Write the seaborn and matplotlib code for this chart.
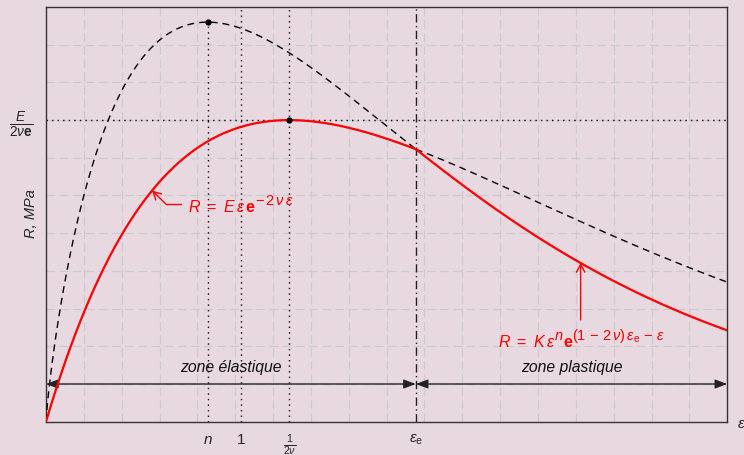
import numpy as np
import pandas as pd
import matplotlib
matplotlib.use("Agg")
import matplotlib.pyplot as plt
import matplotlib.transforms as mtransforms
import seaborn as sns

# Model parameters (strain ε, stress R in plot units)
nu = 0.4            # so that 1/(2ν) = 1.25
n_exp = 0.83        # hardening exponent n
eps_e = 1.9         # elastic / plastic transition strain
eps_max = 3.5
R_max = 11.0
R_peak = 8.0        # E / (2νe)
E = R_peak * 2 * nu * np.e

x_tick_pos = [n_exp, 1.0, 1 / (2 * nu), eps_e]
x_tick_labels = [r'$n$', r'$1$', r'$\frac{1}{2\nu}$', r'$\varepsilon_{\mathrm{e}}$']
y_tick_labels = [r'$\frac{E}{2\nu\mathbf{e}}$']
zone_labels = ['zone élastique', 'zone plastique']
# formula pieces: (text, is_superscript)
law_elastic = [(r'$R\ =\ E\,\varepsilon\,\mathbf{e}$', False),
               (r'$-\,2\,\nu\,\varepsilon$', True)]
law_plastic = [(r'$R\ =\ K\,\varepsilon$', False),
               (r'$n$', True),
               (r'$\mathbf{e}$', False),
               (r'$(1\,-\,2\,\nu)\,\varepsilon_{\mathrm{e}}\,-\,\varepsilon$', True)]

BG = '#e8d8e0'
GRID = '#c9cdcd'


def elastic(eps):
    return E * eps * np.exp(-2 * nu * eps)


K = elastic(eps_e) / (eps_e ** n_exp * np.exp(-eps_e))


def plastic(eps):
    return K * eps ** n_exp * np.exp(-eps)


eps_lo = np.linspace(0, eps_e, 300)
eps_hi = np.linspace(eps_e, eps_max, 300)
red = pd.DataFrame({'eps': np.r_[eps_lo, eps_hi],
                    'R': np.r_[elastic(eps_lo), plastic(eps_hi)]})
dash_lo = pd.DataFrame({'eps': eps_lo, 'R': plastic(eps_lo)})
dash_hi = pd.DataFrame({'eps': eps_hi, 'R': elastic(eps_hi)})

sns.set_theme(style='white', rc={'axes.facecolor': BG, 'figure.facecolor': BG})
plt.rcParams['font.family'] = ['Liberation Sans', 'DejaVu Sans']
plt.rcParams['mathtext.fontset'] = 'custom'
plt.rcParams['mathtext.rm'] = 'Liberation Sans'
plt.rcParams['mathtext.it'] = 'Liberation Sans:italic'
plt.rcParams['mathtext.bf'] = 'Liberation Sans:bold'

fig = plt.figure(figsize=(7.44, 4.55), dpi=100)
ax = fig.add_axes([46 / 744, (455 - 421.7) / 455, 681.2 / 744, 414.7 / 455])
ax.set_xlim(0, eps_max)
ax.set_ylim(0, R_max)

# dashed grid: 18 x 11 equal cells
for gx in np.linspace(0, eps_max, 19)[1:-1]:
    ax.axvline(gx, color=GRID, lw=0.9, ls=(0, (7, 3.5)), zorder=0)
for gy in np.arange(1, R_max):
    ax.axhline(gy, color=GRID, lw=0.9, ls=(0, (7, 3.5)), zorder=0)

dotted = dict(color='black', lw=1.0, ls=(0, (1, 3)), zorder=2)
ax.plot([n_exp, n_exp], [0, plastic(n_exp)], **dotted)
ax.plot([1, 1], [0, R_max], **dotted)
ax.plot([1 / (2 * nu)] * 2, [0, R_max], **dotted)
ax.plot([0, eps_max], [R_peak, R_peak], **dotted)
ax.plot([eps_e, eps_e], [0, R_max], color='#222222', lw=1.0,
        ls=(0, (6, 2.5, 1, 2.5)), zorder=2)

sns.lineplot(data=dash_lo, x='eps', y='R', ax=ax, color='black', lw=1.0,
             linestyle=(0, (5, 3.5)), estimator=None, zorder=3)
sns.lineplot(data=dash_hi, x='eps', y='R', ax=ax, color='black', lw=1.0,
             linestyle=(0, (5, 3.5)), estimator=None, zorder=3)
sns.lineplot(data=red, x='eps', y='R', ax=ax, color='red', lw=1.6,
             estimator=None, zorder=4)

ax.plot([n_exp, 1 / (2 * nu)], [plastic(n_exp), elastic(1 / (2 * nu))],
        'o', color='black', ms=3.5, zorder=5)

# zone arrows
head = '<|-|>,head_length=0.8,head_width=0.3'
for x0, x1, lab in [(0, eps_e, zone_labels[0]), (eps_e, eps_max, zone_labels[1])]:
    ax.annotate('', xy=(x1, 1), xytext=(x0, 1),
                arrowprops=dict(arrowstyle=head, color='#222222', lw=1.0,
                                shrinkA=0, shrinkB=0, mutation_scale=9))
    ax.text((x0 + x1) / 2, 1.45, lab, ha='center', va='center',
            style='italic', fontsize=11.3, color='#111111')

pin = dict(arrowstyle='->,head_length=0.55,head_width=0.3', color='red', lw=1.0,
           shrinkA=0, shrinkB=0, mutation_scale=10)

# pin for the elastic law
tip_e = 0.545
knee = (0.617, 5.77)
ax.plot([0.695, knee[0]], [knee[1], knee[1]], color='red', lw=1.0, zorder=4)
ax.annotate('', xy=(tip_e, elastic(tip_e)), xytext=knee, arrowprops=pin, zorder=4)

# pin for the plastic law
tip_p = 2.747
ax.annotate('', xy=(tip_p, plastic(tip_p)), xytext=(tip_p, 2.70),
            arrowprops=pin, zorder=4)

renderer = fig.canvas.get_renderer()


def formula(x, y, parts, size=11.5, sup_size=10.5, rise=7.0, gap=-1.0):
    """Lay out base and superscript pieces left to right from (x, y)."""
    dx = 0.0
    for txt, sup in parts:
        tr = mtransforms.offset_copy(ax.transData, fig=fig, x=dx,
                                     y=rise if sup else 0, units='dots')
        t = ax.text(x, y, txt, transform=tr, color='red', ha='left',
                    va='baseline', fontsize=sup_size if sup else size, zorder=6)
        dx += t.get_window_extent(renderer).width + gap


formula(0.73, 5.57, law_elastic)
formula(2.323, 1.99, law_plastic)

ax.set_xticks(x_tick_pos)
ax.set_xticklabels(x_tick_labels, fontsize=11)
ax.set_yticks([R_peak])
ax.set_yticklabels(y_tick_labels, fontsize=14)
ax.tick_params(axis='both', length=0)
ax.tick_params(axis='x', pad=8)
ax.tick_params(axis='y', pad=9.5)
ax.set_xlabel('')
ax.set_ylabel('')

for sp in ax.spines.values():
    sp.set_visible(True)
    sp.set_color('#333333')
    sp.set_linewidth(1.0)

fig.text(31 / 744, (455 - 214) / 455, 'R, MPa', rotation=90, style='italic',
         fontsize=10.5, ha='center', va='center')
fig.text(737 / 744, (455 - 424) / 455, r'$\varepsilon$', fontsize=11,
         ha='left', va='center')

fig.savefig('out.png', dpi=100, facecolor=BG)
